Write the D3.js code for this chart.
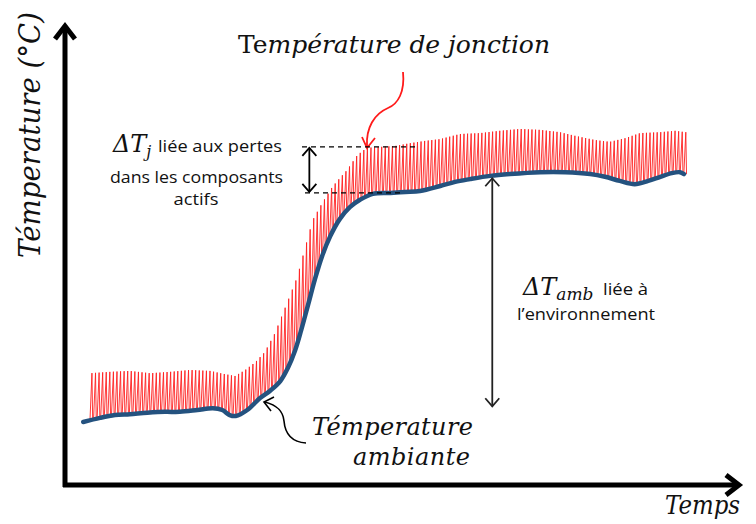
<!DOCTYPE html>
<html>
<head>
<meta charset="UTF-8">
<title>Température de jonction</title>
<script src="https://d3js.org/d3.v7.min.js"></script>
<style>
  body { margin: 0; background: #fff; }
  .math { font-family: "DejaVu Serif", serif; font-style: italic; fill: #111; }
  .note { font-family: "Open Sans", "Noto Sans", sans-serif; fill: #111; }
</style>
</head>
<body>
<div id="chart"></div>
<script>
// ambient temperature (blue curve)
const ambientTime = [2.7, 5.2, 7.4, 9.6, 12.2, 14.8, 17.0, 19.6, 21.9, 23.3, 24.4, 25.3, 27.0, 28.9, 30.4, 31.9,
  33.0, 34.1, 35.0, 36.0, 37.0, 38.1, 39.3, 40.7, 42.2, 43.7, 45.6, 48.2, 50.4, 52.6, 55.6, 57.8, 60.0, 63.0,
  65.9, 70.4, 74.1, 77.8, 80.0, 82.2, 84.4, 86.4, 88.2, 89.9, 91.1, 91.7];
const ambientTemp = [13.7, 14.6, 15.2, 15.4, 15.7, 15.9, 15.9, 16.3, 16.7, 16.3, 15.2, 15.0, 16.3, 18.9, 20.5, 22.6,
  25.4, 29.3, 33.7, 39.1, 44.6, 49.8, 54.1, 57.8, 60.4, 62.0, 63.3, 63.5, 63.7, 63.9, 65.0, 65.9, 66.5, 67.2,
  67.6, 68.0, 68.0, 67.6, 67.0, 66.1, 65.4, 66.1, 67.0, 67.8, 68.0, 67.6];

// junction temperature (tops of the red ripple)
const junctionTime = [3.7, 6.7, 9.6, 12.6, 15.6, 18.5, 21.5, 23.7, 25.2, 26.7, 28.2, 29.6, 31.1, 32.9, 34.4, 35.6,
  36.7, 38.1, 39.6, 40.7, 41.8, 43.3, 44.7, 46.7, 48.9, 51.1, 53.3, 55.6, 58.5, 61.5, 64.4, 67.4, 70.4,
  73.3, 75.6, 78.5, 80.7, 83.0, 85.2, 88.2, 90.4, 91.9];
const junctionTemp = [24.3, 24.6, 24.8, 24.3, 24.6, 25.0, 24.8, 24.1, 23.7, 25.0, 26.7, 28.9, 33.0, 39.6, 45.2, 51.7,
  57.6, 61.3, 64.8, 66.7, 68.5, 71.7, 73.3, 73.5, 73.7, 74.3, 74.8, 75.2, 76.3, 76.5, 77.0, 77.4, 77.2,
  76.7, 75.9, 75.0, 74.6, 75.4, 76.5, 76.7, 77.0, 76.7];
const ripplePeriod = 0.53;   // time between two teeth of the ripple

// reference levels for the two delta annotations
const deltaJTop = 73.5, deltaJBottom = 63.5, deltaJTime = 36.2;
const deltaAmbTop = 66.9, deltaAmbBottom = 16.9, deltaAmbTime = 63.3;

const W = 756, H = 524;
const svg = d3.select("#chart").append("svg")
  .attr("width", W).attr("height", H);

const x = d3.scaleLinear().domain([0, 100]).range([65, 740]);
const y = d3.scaleLinear().domain([0, 100]).range([485, 25]);

// piecewise readers of the two curves, used for the ripple teeth
const ambientAt = d3.scaleLinear().domain(ambientTime).range(ambientTemp).clamp(true);
const junctionAt = d3.scaleLinear().domain(junctionTime).range(junctionTemp).clamp(true);

// red ripple (junction temperature): thin spikes from the ambient curve
const teeth = [];
for (let t = junctionTime[0]; t <= junctionTime[junctionTime.length - 1]; t += ripplePeriod) {
  teeth.push([x(t), y(ambientAt(t))]);
  teeth.push([x(t + ripplePeriod * 0.55), y(junctionAt(t + ripplePeriod * 0.55))]);
  teeth.push([x(t + ripplePeriod * 0.75), y(ambientAt(t + ripplePeriod * 0.75))]);
}
svg.append("path")
  .attr("d", d3.line()(teeth))
  .attr("fill", "none")
  .attr("stroke", "#ff2020")
  .attr("stroke-width", 0.9);

// blue curve (ambient temperature)
svg.append("path")
  .datum(d3.zip(ambientTime, ambientTemp))
  .attr("d", d3.line().x(d => x(d[0])).y(d => y(d[1])).curve(d3.curveCatmullRom))
  .attr("fill", "none")
  .attr("stroke", "#24527f")
  .attr("stroke-width", 4.5)
  .attr("stroke-linecap", "round");

// axes with arrows
const axisG = svg.append("g").attr("fill", "none").attr("stroke", "#000")
  .attr("stroke-width", 5);
axisG.append("path").attr("d", `M${x(0)},${y(0) + 2}V${y(100) + 2}`);
axisG.append("path").attr("d", `M${x(0) - 2},${y(0)}H${x(100) - 3}`);
axisG.append("path").attr("stroke-linejoin", "miter")
  .attr("d", `M${x(0) - 10},${y(100) + 14}L${x(0)},${y(100) + 1}L${x(0) + 10},${y(100) + 14}`);
axisG.append("path").attr("stroke-linejoin", "miter")
  .attr("d", `M${x(100) - 14},${y(0) - 10}L${x(100) - 1},${y(0)}L${x(100) - 14},${y(0) + 10}`);

// axis titles
svg.append("text").attr("class", "math")
  .attr("transform", "translate(40,135) rotate(-90)")
  .attr("text-anchor", "middle")
  .attr("font-size", 29)
  .attr("textLength", 246).attr("lengthAdjust", "spacingAndGlyphs")
  .text("Témperature (°C)");
svg.append("text").attr("class", "math")
  .attr("x", 665).attr("y", 514)
  .attr("font-size", 26)
  .attr("textLength", 75).attr("lengthAdjust", "spacingAndGlyphs")
  .text("Temps");

// title of the red curve
const jt = svg.append("text").attr("class", "math")
  .attr("x", 238).attr("y", 53).attr("font-size", 25)
  .attr("textLength", 312).attr("lengthAdjust", "spacing");
jt.append("tspan").style("font-style", "normal").text("Te");
jt.append("tspan").text("mpérature de jonction");

// red arrow to the ripple
svg.append("path")
  .attr("d", "M403,72C405,92 398,104 388,108C374,114 366,128 367,146")
  .attr("fill", "none").attr("stroke", "#ff1a1a").attr("stroke-width", 1.8);
svg.append("path")
  .attr("d", "M362,137L367,148L375,138")
  .attr("fill", "none").attr("stroke", "#ff1a1a").attr("stroke-width", 1.8);

// ambient label and its arrow
svg.append("text").attr("class", "math")
  .attr("x", 473).attr("y", 435).attr("text-anchor", "end")
  .attr("font-size", 24)
  .attr("textLength", 161).attr("lengthAdjust", "spacing")
  .text("Témperature");
svg.append("text").attr("class", "math")
  .attr("x", 470).attr("y", 465).attr("text-anchor", "end")
  .attr("font-size", 24)
  .attr("textLength", 117).attr("lengthAdjust", "spacing")
  .text("ambiante");
svg.append("path")
  .attr("d", "M306,443C291,442 285,433 284,421C283,410 276,405 265,402")
  .attr("fill", "none").attr("stroke", "#000").attr("stroke-width", 1.6);
svg.append("path")
  .attr("d", "M274,397L264,402L271,411")
  .attr("fill", "none").attr("stroke", "#000").attr("stroke-width", 1.6);

// delta Tj : dashed levels and double arrow
const dash = svg.append("g").attr("stroke", "#000").attr("stroke-width", 1.4)
  .attr("stroke-dasharray", "5,4");
dash.append("line").attr("x1", 302).attr("x2", 417)
  .attr("y1", y(deltaJTop)).attr("y2", y(deltaJTop));
dash.append("line").attr("x1", 305).attr("x2", 402)
  .attr("y1", y(deltaJBottom)).attr("y2", y(deltaJBottom));

function doubleArrow(t, top, bottom, color) {
  const g = svg.append("g").attr("fill", "none").attr("stroke", color).attr("stroke-width", 1.8);
  const px = x(t), y0 = y(top), y1 = y(bottom);
  g.append("path").attr("d", `M${px},${y0 + 1}V${y1 - 1}`);
  g.append("path").attr("d", `M${px - 7},${y0 + 9}L${px},${y0 + 1}L${px + 7},${y0 + 9}`);
  g.append("path").attr("d", `M${px - 7},${y1 - 9}L${px},${y1 - 1}L${px + 7},${y1 - 9}`);
}
doubleArrow(deltaJTime, deltaJTop, deltaJBottom, "#000");
doubleArrow(deltaAmbTime, deltaAmbTop, deltaAmbBottom, "#222");

// delta Tj text
const dj = svg.append("text").attr("class", "math").attr("x", 113).attr("y", 152).attr("font-size", 24);
dj.append("tspan").text("ΔT");
dj.append("tspan").attr("font-size", 16).attr("dy", 5).text("j");
svg.append("text").attr("class", "note").attr("x", 158).attr("y", 152)
  .attr("font-size", 16).attr("textLength", 124).attr("lengthAdjust", "spacingAndGlyphs")
  .text("liée aux pertes");
svg.append("text").attr("class", "note").attr("x", 110).attr("y", 183)
  .attr("font-size", 16).attr("textLength", 173).attr("lengthAdjust", "spacingAndGlyphs")
  .text("dans les composants");
svg.append("text").attr("class", "note").attr("x", 196).attr("y", 205)
  .attr("font-size", 16).attr("text-anchor", "middle")
  .attr("textLength", 45).attr("lengthAdjust", "spacingAndGlyphs")
  .text("actifs");

// delta Tamb text
const da = svg.append("text").attr("class", "math").attr("x", 523).attr("y", 295).attr("font-size", 24);
da.append("tspan").text("ΔT");
da.append("tspan").attr("font-size", 17).attr("dy", 5).text("amb");
svg.append("text").attr("class", "note").attr("x", 603).attr("y", 295)
  .attr("font-size", 16).attr("textLength", 45).attr("lengthAdjust", "spacingAndGlyphs")
  .text("liée à");
svg.append("text").attr("class", "note").attr("x", 517).attr("y", 320)
  .attr("font-size", 16).attr("textLength", 138).attr("lengthAdjust", "spacingAndGlyphs")
  .text("l’environnement");
</script>
</body>
</html>
